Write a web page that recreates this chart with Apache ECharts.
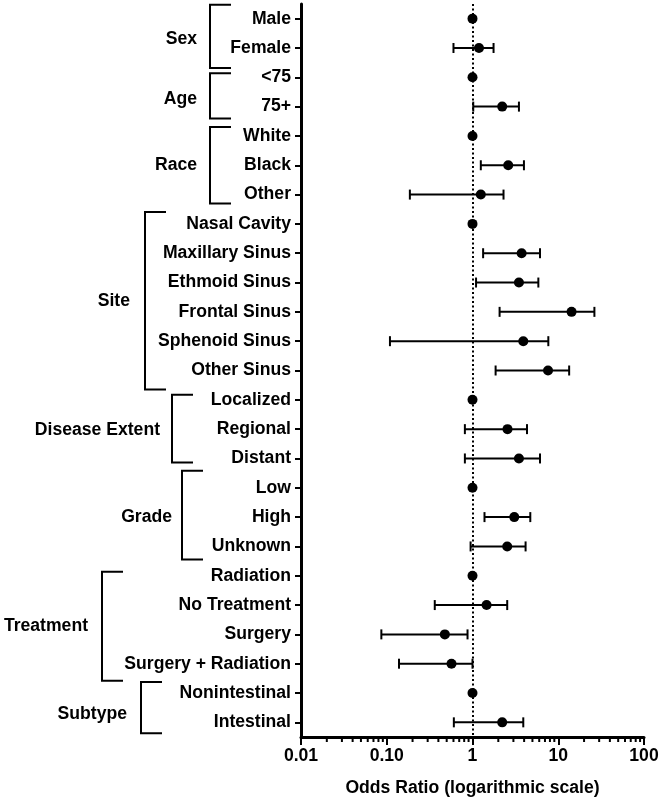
<!DOCTYPE html>
<html>
<head>
<meta charset="utf-8">
<script src="https://cdn.jsdelivr.net/npm/echarts@6/dist/echarts.min.js"></script>
<style>
html,body{margin:0;padding:0;background:#fff;}
#chart{width:661px;height:800px;}
</style>
</head>
<body>
<div id="chart"></div>
<script>
const categories = ['Male','Female','<75','75+','White','Black','Other','Nasal Cavity','Maxillary Sinus','Ethmoid Sinus','Frontal Sinus','Sphenoid Sinus','Other Sinus','Localized','Regional','Distant','Low','High','Unknown','Radiation','No Treatment','Surgery','Surgery + Radiation','Nonintestinal','Intestinal'];
const oddsRatio = [1,1.19,1,2.22,1,2.61,1.25,1,3.74,3.48,14.3,3.91,7.60,1,2.56,3.48,1,3.07,2.54,1,1.46,0.476,0.569,1,2.22];
const ciLow  = [null,0.60,null,1.02,null,1.25,0.186,null,1.33,1.10,2.07,0.109,1.86,null,0.815,0.815,null,1.38,0.95,null,0.363,0.0865,0.139,null,0.606];
const ciHigh = [null,1.76,null,3.48,null,3.98,2.30,null,6.13,5.86,26.4,7.66,13.4,null,4.32,6.13,null,4.72,4.16,null,2.54,0.875,1.0,null,3.91];
const groupNames = ['Sex','Age','Race','Site','Disease Extent','Grade','Treatment','Subtype'];
const groupStart = [0,2,4,7,13,16,19,23];
const groupEnd   = [1,3,6,12,15,18,22,24];
const xTickValues = [0.01,0.1,1,10,100];
const xTickLabels = ['0.01','0.10','1','10','100'];
const minorTickValues = [0.02,0.03,0.04,0.05,0.06,0.07,0.08,0.09,0.2,0.3,0.4,0.5,0.6,0.7,0.8,0.9,2,3,4,5,6,7,8,9,20,30,40,50,60,70,80,90];
const referenceOR = 1;

// layout/style for group brackets (pixels)
const bracketX   = [210,210,210,145,172,182,102,141];
const bracketTop = [-14,-4,-9,-12,-5,-17,-4,-11];
const bracketBot = [20,12,9,19,4,13,17,11];
const labelGap   = [13,13,13,15,12,10,14,14];
const labelDy    = [3,3,0,0,2,2,0,6];

const FONT = "Arial, 'Liberation Sans', sans-serif";
const FS = 17.6;
const chart = echarts.init(document.getElementById('chart'), null, {renderer:'canvas'});

const ciData = [];
categories.forEach((c,i)=>{ if(ciLow[i]!=null) ciData.push([ciLow[i], ciHigh[i], c]); });

const option = {
  backgroundColor:'#fff',
  animation:false,
  grid:{left:301, right:17, top:4, bottom:63, containLabel:false, outerBoundsMode:'none'},
  xAxis:{
    type:'log', logBase:10, min:0.01, max:100,
    axisLine:{show:true, lineStyle:{color:'#000', width:3}},
    axisTick:{show:true, length:8, lineStyle:{color:'#000', width:2}},
    axisLabel:{color:'#000', fontSize:FS, fontWeight:'bold', fontFamily:FONT, margin:10,
      formatter:function(v){ const k = xTickValues.findIndex(t=>Math.abs(Math.log10(t)-Math.log10(v))<1e-6); return k>=0?xTickLabels[k]:''; }},
    splitLine:{show:false},
    name:'Odds Ratio (logarithmic scale)', nameLocation:'middle', nameGap:42,
    nameTextStyle:{color:'#000', fontSize:FS, fontWeight:'bold', fontFamily:FONT}
  },
  yAxis:{
    type:'category', inverse:true, data:categories, boundaryGap:true,
    axisLine:{show:true, lineStyle:{color:'#000', width:3}},
    axisTick:{show:true, alignWithLabel:true, length:6, lineStyle:{color:'#000', width:2}},
    axisLabel:{color:'#000', fontSize:FS, fontWeight:'bold', fontFamily:FONT, margin:10, interval:0},
    splitLine:{show:false}
  },
  series:[
    {
      type:'custom', name:'ci', clip:false, z:3,
      encode:{x:[0,1], y:2},
      data:ciData,
      renderItem:function(params, api){
        const y = api.value(2);
        const p1 = api.coord([api.value(0), y]);
        const p2 = api.coord([api.value(1), y]);
        const h = 5;
        const st = {stroke:'#000', lineWidth:2, fill:null};
        return {type:'group', children:[
          {type:'line', shape:{x1:p1[0], y1:p1[1], x2:p2[0], y2:p2[1]}, style:st},
          {type:'line', shape:{x1:p1[0], y1:p1[1]-h, x2:p1[0], y2:p1[1]+h}, style:st},
          {type:'line', shape:{x1:p2[0], y1:p2[1]-h, x2:p2[0], y2:p2[1]+h}, style:st}
        ]};
      }
    },
    {
      type:'scatter', name:'OR', symbol:'circle', symbolSize:10, z:5,
      itemStyle:{color:'#000', opacity:1},
      data:oddsRatio.map((v,i)=>[v, categories[i]]),
      markLine:{
        silent:true, symbol:['none','none'], label:{show:false}, z:4,
        lineStyle:{color:'#000', width:2, type:[2,2.5], opacity:1},
        data:[{xAxis:referenceOR}]
      }
    },
    {
      type:'custom', name:'minorTicks', clip:false, silent:true,
      encode:{x:0, y:1},
      data:minorTickValues.map(v=>[v, categories[categories.length-1]]),
      renderItem:function(params, api){
        const cs = params.coordSys;
        const x = api.coord([api.value(0), api.value(1)])[0];
        const yb = cs.y + cs.height;
        return {type:'line', shape:{x1:x, y1:yb, x2:x, y2:yb+5}, style:{stroke:'#000', lineWidth:2}};
      }
    },
    {
      type:'custom', name:'groups', clip:false, silent:true,
      encode:{x:0, y:1},
      data:groupNames.map((n,i)=>[referenceOR, categories[groupStart[i]], i]),
      renderItem:function(params, api){
        const g = api.value(2);
        const yTop = api.coord([referenceOR, categories[groupStart[g]]])[1] + bracketTop[g];
        const yBot = api.coord([referenceOR, categories[groupEnd[g]]])[1] + bracketBot[g];
        const x = bracketX[g];
        const arm = 21;
        return {type:'group', children:[
          {type:'polyline', shape:{points:[[x+arm,yTop],[x,yTop],[x,yBot],[x+arm,yBot]]},
           style:{stroke:'#000', lineWidth:2, fill:null}},
          {type:'text', x:x-labelGap[g], y:(yTop+yBot)/2+labelDy[g],
           style:{text:groupNames[g], fill:'#000', font:'bold '+FS+'px '+FONT, align:'right', verticalAlign:'middle'}}
        ]};
      }
    }
  ]
};
chart.setOption(option);
</script>
</body>
</html>
